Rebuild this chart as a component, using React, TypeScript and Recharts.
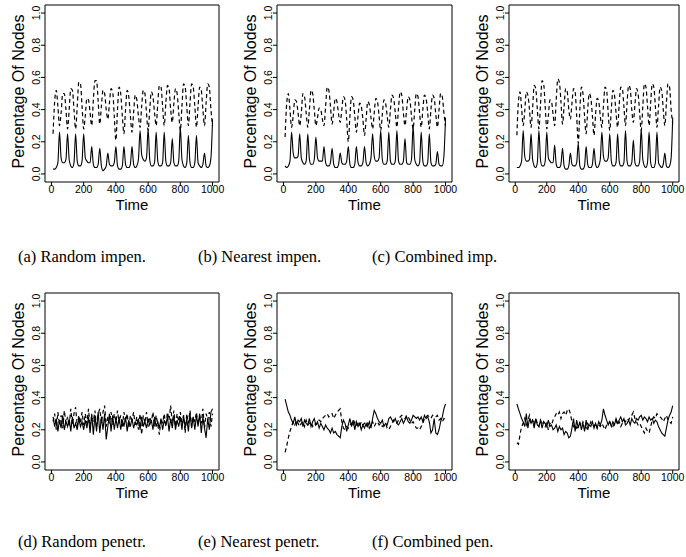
import { LineChart, Line, XAxis, YAxis, ReferenceArea } from "recharts";

// time steps shared by every panel
const TIME = [
  10, 20, 30, 40, 50, 60, 70, 80, 90, 100, 110, 120, 130, 140, 150, 160, 170, 180, 190, 200,
  210, 220, 230, 240, 250, 260, 270, 280, 290, 300, 310, 320, 330, 340, 350, 360, 370, 380, 390, 400,
  410, 420, 430, 440, 450, 460, 470, 480, 490, 500, 510, 520, 530, 540, 550, 560, 570, 580, 590, 600,
  610, 620, 630, 640, 650, 660, 670, 680, 690, 700, 710, 720, 730, 740, 750, 760, 770, 780, 790, 800,
  810, 820, 830, 840, 850, 860, 870, 880, 890, 900, 910, 920, 930, 940, 950, 960, 970, 980, 990, 1000,
];

const X_TICKS = [0, 200, 400, 600, 800, 1000];
const Y_TICKS = [0, 0.2, 0.4, 0.6, 0.8, 1.0];

// (a) Random impen.
const A_SOLID = [
  0.03, 0.03, 0.04, 0.07, 0.26, 0.10, 0.07, 0.07, 0.09, 0.25, 0.09, 0.05, 0.04, 0.07, 0.25, 0.08, 0.05, 0.05, 0.08, 0.25,
  0.10, 0.08, 0.07, 0.07, 0.17, 0.06, 0.04, 0.04, 0.06, 0.16, 0.05, 0.02, 0.03, 0.05, 0.13, 0.06, 0.05, 0.05, 0.07, 0.17,
  0.05, 0.03, 0.03, 0.05, 0.17, 0.06, 0.04, 0.04, 0.06, 0.17, 0.06, 0.04, 0.05, 0.09, 0.27, 0.12, 0.09, 0.08, 0.10, 0.28,
  0.09, 0.05, 0.05, 0.07, 0.26, 0.08, 0.05, 0.05, 0.07, 0.26, 0.08, 0.05, 0.05, 0.07, 0.22, 0.07, 0.05, 0.05, 0.08, 0.29,
  0.09, 0.05, 0.04, 0.07, 0.24, 0.07, 0.04, 0.04, 0.07, 0.24, 0.07, 0.05, 0.04, 0.06, 0.13, 0.05, 0.04, 0.05, 0.10, 0.34,
];
const A_DASHED = [
  0.25, 0.45, 0.52, 0.42, 0.30, 0.38, 0.50, 0.50, 0.40, 0.28, 0.40, 0.53, 0.52, 0.40, 0.28, 0.42, 0.57, 0.56, 0.42, 0.28,
  0.36, 0.47, 0.46, 0.38, 0.30, 0.46, 0.58, 0.58, 0.45, 0.31, 0.42, 0.52, 0.50, 0.40, 0.34, 0.44, 0.53, 0.51, 0.36, 0.21,
  0.40, 0.54, 0.50, 0.36, 0.25, 0.40, 0.52, 0.48, 0.36, 0.26, 0.38, 0.49, 0.46, 0.36, 0.29, 0.42, 0.52, 0.50, 0.38, 0.27,
  0.40, 0.51, 0.48, 0.38, 0.30, 0.44, 0.55, 0.54, 0.42, 0.30, 0.44, 0.55, 0.53, 0.40, 0.32, 0.44, 0.53, 0.50, 0.38, 0.27,
  0.42, 0.56, 0.54, 0.42, 0.30, 0.44, 0.56, 0.54, 0.42, 0.29, 0.42, 0.54, 0.52, 0.40, 0.30, 0.44, 0.56, 0.54, 0.40, 0.30,
];

// (b) Nearest impen.
const B_SOLID = [
  0.05, 0.04, 0.05, 0.08, 0.26, 0.13, 0.10, 0.10, 0.11, 0.25, 0.10, 0.07, 0.06, 0.08, 0.25, 0.09, 0.06, 0.06, 0.09, 0.23,
  0.10, 0.08, 0.08, 0.08, 0.17, 0.07, 0.05, 0.05, 0.07, 0.16, 0.06, 0.04, 0.04, 0.06, 0.13, 0.07, 0.06, 0.06, 0.08, 0.17,
  0.06, 0.04, 0.04, 0.06, 0.17, 0.07, 0.05, 0.05, 0.07, 0.17, 0.07, 0.05, 0.06, 0.10, 0.25, 0.11, 0.08, 0.08, 0.10, 0.27,
  0.09, 0.06, 0.06, 0.08, 0.26, 0.08, 0.06, 0.06, 0.08, 0.27, 0.08, 0.06, 0.06, 0.08, 0.22, 0.07, 0.06, 0.06, 0.09, 0.30,
  0.09, 0.06, 0.05, 0.07, 0.26, 0.08, 0.05, 0.05, 0.07, 0.25, 0.07, 0.05, 0.05, 0.06, 0.14, 0.06, 0.05, 0.05, 0.11, 0.35,
];
const B_DASHED = [
  0.23, 0.44, 0.50, 0.40, 0.29, 0.36, 0.46, 0.45, 0.38, 0.30, 0.38, 0.50, 0.48, 0.38, 0.29, 0.40, 0.52, 0.50, 0.40, 0.30,
  0.35, 0.41, 0.40, 0.34, 0.30, 0.42, 0.54, 0.52, 0.42, 0.31, 0.39, 0.47, 0.45, 0.37, 0.32, 0.40, 0.48, 0.46, 0.34, 0.20,
  0.36, 0.48, 0.46, 0.36, 0.26, 0.36, 0.44, 0.42, 0.34, 0.24, 0.34, 0.45, 0.43, 0.35, 0.28, 0.38, 0.47, 0.45, 0.36, 0.27,
  0.37, 0.46, 0.44, 0.36, 0.29, 0.40, 0.49, 0.47, 0.38, 0.29, 0.41, 0.51, 0.49, 0.38, 0.30, 0.40, 0.48, 0.46, 0.36, 0.28,
  0.40, 0.50, 0.48, 0.38, 0.29, 0.40, 0.49, 0.47, 0.38, 0.28, 0.40, 0.49, 0.47, 0.37, 0.29, 0.40, 0.50, 0.48, 0.38, 0.30,
];

// (c) Combined imp.
const C_SOLID = [
  0.04, 0.04, 0.05, 0.08, 0.27, 0.11, 0.08, 0.08, 0.09, 0.25, 0.09, 0.05, 0.04, 0.07, 0.27, 0.09, 0.05, 0.05, 0.08, 0.26,
  0.10, 0.08, 0.07, 0.07, 0.18, 0.06, 0.04, 0.04, 0.06, 0.16, 0.05, 0.03, 0.03, 0.05, 0.13, 0.06, 0.05, 0.05, 0.07, 0.19,
  0.05, 0.03, 0.03, 0.05, 0.17, 0.06, 0.04, 0.04, 0.06, 0.16, 0.06, 0.04, 0.05, 0.09, 0.26, 0.11, 0.08, 0.08, 0.10, 0.25,
  0.08, 0.05, 0.05, 0.07, 0.25, 0.08, 0.05, 0.05, 0.07, 0.27, 0.08, 0.05, 0.05, 0.07, 0.21, 0.07, 0.05, 0.05, 0.08, 0.28,
  0.09, 0.05, 0.04, 0.07, 0.26, 0.07, 0.04, 0.04, 0.07, 0.26, 0.07, 0.05, 0.04, 0.06, 0.13, 0.05, 0.04, 0.05, 0.10, 0.35,
];
const C_DASHED = [
  0.24, 0.45, 0.51, 0.41, 0.30, 0.39, 0.51, 0.49, 0.40, 0.29, 0.41, 0.55, 0.53, 0.40, 0.28, 0.43, 0.58, 0.56, 0.42, 0.28,
  0.36, 0.46, 0.45, 0.37, 0.30, 0.46, 0.59, 0.57, 0.45, 0.31, 0.42, 0.53, 0.51, 0.40, 0.34, 0.44, 0.53, 0.51, 0.36, 0.19,
  0.40, 0.54, 0.50, 0.36, 0.25, 0.40, 0.50, 0.47, 0.36, 0.24, 0.37, 0.47, 0.45, 0.36, 0.29, 0.42, 0.54, 0.52, 0.38, 0.27,
  0.40, 0.52, 0.49, 0.38, 0.29, 0.43, 0.54, 0.53, 0.42, 0.30, 0.44, 0.55, 0.53, 0.40, 0.32, 0.43, 0.53, 0.50, 0.38, 0.27,
  0.42, 0.56, 0.54, 0.42, 0.30, 0.44, 0.56, 0.54, 0.42, 0.29, 0.42, 0.54, 0.52, 0.40, 0.30, 0.44, 0.56, 0.54, 0.40, 0.31,
];

// (d) Random penetr.
const D_SOLID = [
  0.28, 0.22, 0.27, 0.19, 0.26, 0.21, 0.29, 0.20, 0.25, 0.22, 0.27, 0.19, 0.28, 0.21, 0.24, 0.20, 0.27, 0.22, 0.25, 0.20,
  0.26, 0.21, 0.28, 0.18, 0.30, 0.17, 0.29, 0.19, 0.31, 0.18, 0.28, 0.20, 0.30, 0.14, 0.22, 0.30, 0.19, 0.29, 0.20, 0.27,
  0.21, 0.28, 0.20, 0.26, 0.22, 0.28, 0.19, 0.26, 0.22, 0.27, 0.21, 0.25, 0.23, 0.27, 0.20, 0.28, 0.22, 0.25, 0.21, 0.27,
  0.23, 0.26, 0.20, 0.28, 0.22, 0.25, 0.21, 0.27, 0.20, 0.26, 0.23, 0.28, 0.19, 0.27, 0.21, 0.29, 0.20, 0.26, 0.22, 0.28,
  0.20, 0.29, 0.21, 0.27, 0.19, 0.30, 0.21, 0.28, 0.20, 0.29, 0.22, 0.30, 0.18, 0.28, 0.21, 0.15, 0.27, 0.20, 0.31, 0.33,
];
const D_DASHED = [
  0.25, 0.30, 0.20, 0.31, 0.23, 0.29, 0.21, 0.32, 0.24, 0.28, 0.22, 0.33, 0.23, 0.30, 0.34, 0.22, 0.29, 0.24, 0.31, 0.23,
  0.30, 0.24, 0.33, 0.22, 0.29, 0.25, 0.32, 0.21, 0.30, 0.33, 0.24, 0.31, 0.35, 0.22, 0.28, 0.24, 0.31, 0.23, 0.30, 0.25,
  0.32, 0.24, 0.29, 0.22, 0.31, 0.25, 0.30, 0.21, 0.29, 0.26, 0.31, 0.23, 0.28, 0.20, 0.30, 0.17, 0.29, 0.24, 0.31, 0.22,
  0.28, 0.25, 0.31, 0.22, 0.29, 0.23, 0.17, 0.27, 0.24, 0.30, 0.22, 0.31, 0.26, 0.35, 0.24, 0.32, 0.22, 0.30, 0.25, 0.31,
  0.23, 0.29, 0.18, 0.30, 0.24, 0.32, 0.22, 0.28, 0.25, 0.31, 0.23, 0.29, 0.24, 0.33, 0.21, 0.30, 0.26, 0.31, 0.22, 0.30,
];

// (e) Nearest penetr.
const E_SOLID = [
  0.39, 0.35, 0.31, 0.29, 0.26, 0.24, 0.28, 0.23, 0.26, 0.25, 0.27, 0.22, 0.26, 0.24, 0.23, 0.27, 0.22, 0.25, 0.27, 0.23,
  0.25, 0.21, 0.24, 0.22, 0.20, 0.23, 0.21, 0.20, 0.18, 0.21, 0.18, 0.19, 0.17, 0.16, 0.15, 0.22, 0.26, 0.24, 0.19, 0.23,
  0.27, 0.22, 0.26, 0.20, 0.25, 0.22, 0.24, 0.20, 0.23, 0.21, 0.24, 0.22, 0.25, 0.21, 0.27, 0.32, 0.30, 0.27, 0.25, 0.24,
  0.26, 0.22, 0.24, 0.23, 0.27, 0.28, 0.26, 0.25, 0.27, 0.24, 0.23, 0.25, 0.27, 0.24, 0.26, 0.28, 0.25, 0.24, 0.26, 0.29,
  0.28, 0.27, 0.28, 0.26, 0.28, 0.25, 0.29, 0.27, 0.28, 0.25, 0.18, 0.20, 0.27, 0.18, 0.17, 0.20, 0.25, 0.28, 0.33, 0.36,
];
const E_DASHED = [
  0.06, 0.10, 0.15, 0.19, 0.22, 0.25, 0.23, 0.26, 0.24, 0.22, 0.24, 0.25, 0.22, 0.26, 0.23, 0.24, 0.25, 0.22, 0.24, 0.23,
  0.24, 0.26, 0.25, 0.27, 0.28, 0.29, 0.30, 0.28, 0.29, 0.30, 0.27, 0.29, 0.31, 0.32, 0.33, 0.25, 0.21, 0.20, 0.22, 0.21,
  0.23, 0.24, 0.22, 0.25, 0.23, 0.24, 0.22, 0.25, 0.23, 0.24, 0.22, 0.24, 0.21, 0.23, 0.25, 0.22, 0.24, 0.25, 0.23, 0.24,
  0.22, 0.23, 0.24, 0.21, 0.20, 0.22, 0.24, 0.26, 0.25, 0.24, 0.26, 0.28, 0.29, 0.28, 0.27, 0.29, 0.28, 0.26, 0.24, 0.25,
  0.23, 0.21, 0.21, 0.20, 0.22, 0.24, 0.27, 0.28, 0.29, 0.28, 0.27, 0.29, 0.28, 0.28, 0.29, 0.26, 0.27, 0.25, 0.27, 0.26,
];

// (f) Combined pen.
const F_SOLID = [
  0.36, 0.33, 0.30, 0.27, 0.25, 0.22, 0.30, 0.21, 0.27, 0.24, 0.26, 0.21, 0.27, 0.23, 0.22, 0.26, 0.21, 0.25, 0.24, 0.22,
  0.26, 0.22, 0.23, 0.20, 0.21, 0.23, 0.19, 0.22, 0.20, 0.21, 0.17, 0.19, 0.18, 0.15, 0.16, 0.21, 0.27, 0.19, 0.26, 0.21,
  0.25, 0.20, 0.24, 0.19, 0.26, 0.20, 0.23, 0.22, 0.25, 0.21, 0.24, 0.21, 0.25, 0.23, 0.26, 0.33, 0.29, 0.26, 0.23, 0.25,
  0.22, 0.25, 0.23, 0.27, 0.24, 0.26, 0.28, 0.25, 0.27, 0.23, 0.24, 0.26, 0.23, 0.27, 0.25, 0.24, 0.27, 0.26, 0.28, 0.29,
  0.26, 0.28, 0.27, 0.25, 0.28, 0.26, 0.27, 0.24, 0.26, 0.25, 0.22, 0.20, 0.18, 0.17, 0.16, 0.21, 0.26, 0.29, 0.31, 0.35,
];
const F_DASHED = [
  0.12, 0.11, 0.17, 0.22, 0.24, 0.27, 0.23, 0.26, 0.29, 0.24, 0.26, 0.23, 0.27, 0.24, 0.22, 0.26, 0.23, 0.25, 0.22, 0.24,
  0.20, 0.24, 0.23, 0.26, 0.28, 0.30, 0.29, 0.31, 0.27, 0.30, 0.31, 0.29, 0.32, 0.33, 0.30, 0.25, 0.22, 0.23, 0.21, 0.22,
  0.24, 0.22, 0.25, 0.23, 0.21, 0.24, 0.22, 0.25, 0.23, 0.22, 0.24, 0.21, 0.23, 0.22, 0.24, 0.22, 0.20, 0.23, 0.24, 0.25,
  0.23, 0.22, 0.24, 0.26, 0.23, 0.25, 0.22, 0.24, 0.26, 0.25, 0.27, 0.26, 0.28, 0.29, 0.31, 0.27, 0.25, 0.23, 0.24, 0.22,
  0.20, 0.18, 0.21, 0.19, 0.18, 0.22, 0.26, 0.28, 0.27, 0.30, 0.29, 0.28, 0.27, 0.25, 0.27, 0.29, 0.26, 0.25, 0.24, 0.28,
];

const CAPTIONS = [
  "(a) Random impen.",
  "(b) Nearest impen.",
  "(c) Combined imp.",
  "(d) Random penetr.",
  "(e) Nearest penetr.",
  "(f) Combined pen.",
];

const SANS = "'Liberation Sans', Arial, Helvetica, sans-serif";
const SERIF = "'Liberation Serif', 'Times New Roman', serif";

const X_DOMAIN: [number, number] = [-40, 1040];
const Y_DOMAIN: [number, number] = [-0.05, 1.05];

const YTick = (props: any) => {
  const { x, y, payload } = props;
  const tx = x + 1.5;
  return (
    <text
      x={tx}
      y={y}
      transform={`rotate(-90 ${tx} ${y})`}
      textAnchor="middle"
      fontFamily={SANS}
      fontSize={10.5}
      fill="#000"
    >
      {payload.value.toFixed(1)}
    </text>
  );
};

const TimeLabel = (props: any) => {
  const vb = props.viewBox;
  return (
    <text
      x={vb.x + vb.width / 2}
      y={vb.y + 27.5}
      textAnchor="middle"
      fontFamily={SANS}
      fontSize={15}
      fill="#000"
    >
      Time
    </text>
  );
};

const YLabel = (props: any) => {
  const vb = props.viewBox;
  const x = 23.5;
  const y = vb.y + vb.height / 2 - 2;
  return (
    <text
      x={x}
      y={y}
      transform={`rotate(-90 ${x} ${y})`}
      textAnchor="middle"
      fontFamily={SANS}
      fontSize={16}
      fill="#000"
    >
      Percentage Of Nodes
    </text>
  );
};

interface PanelProps {
  left: number;
  top: number;
  width: number;
  solid: number[];
  dashed: number[];
  smooth: boolean;
}

function Panel({ left, top, width, solid, dashed, smooth }: PanelProps) {
  const data = TIME.map((t, i) => ({ t, solid: solid[i], dashed: dashed[i] }));
  return (
    <div style={{ position: "absolute", left, top }}>
      <LineChart
        width={width}
        height={215}
        data={data}
        margin={{ top: 5, right: 6, left: 0, bottom: 0 }}
      >
        <XAxis
          dataKey="t"
          type="number"
          domain={X_DOMAIN}
          ticks={X_TICKS}
          interval={0}
          allowDataOverflow
          axisLine={false}
          tickSize={4}
          tickMargin={0}
          tickLine={{ stroke: "#000" }}
          tick={{ fill: "#000", fontSize: 10.5, fontFamily: SANS }}
          height={33}
          label={TimeLabel}
        />
        <YAxis
          type="number"
          domain={Y_DOMAIN}
          ticks={Y_TICKS}
          interval={0}
          allowDataOverflow
          axisLine={false}
          tickSize={4}
          tickLine={{ stroke: "#000" }}
          tick={<YTick />}
          width={45}
          label={YLabel}
        />
        <ReferenceArea
          x1={X_DOMAIN[0]}
          x2={X_DOMAIN[1]}
          y1={Y_DOMAIN[0]}
          y2={Y_DOMAIN[1]}
          fill="none"
          fillOpacity={0}
          stroke="#000"
          strokeWidth={1}
          ifOverflow="visible"
        />
        <Line
          dataKey="dashed"
          type={smooth ? "monotone" : "linear"}
          stroke="#000"
          strokeWidth={1.2}
          strokeDasharray="4 3"
          dot={false}
          isAnimationActive={false}
        />
        <Line
          dataKey="solid"
          type={smooth ? "monotone" : "linear"}
          stroke="#000"
          strokeWidth={1.1}
          dot={false}
          isAnimationActive={false}
        />
      </LineChart>
    </div>
  );
}

const PANEL_LEFT = [0, 232, 464];
const PANEL_WIDTH = [225, 226, 221];
const ROW_TOP = [0, 288];
const CAPTION_X = [18, 198, 372];
const CAPTION_Y = [262, 547];

export default function App() {
  const panels = [
    { solid: A_SOLID, dashed: A_DASHED },
    { solid: B_SOLID, dashed: B_DASHED },
    { solid: C_SOLID, dashed: C_DASHED },
    { solid: D_SOLID, dashed: D_DASHED },
    { solid: E_SOLID, dashed: E_DASHED },
    { solid: F_SOLID, dashed: F_DASHED },
  ];
  return (
    <div
      style={{
        position: "absolute",
        left: 0,
        top: 0,
        width: 686,
        height: 557,
        background: "#fff",
        overflow: "hidden",
      }}
    >
      <svg width={686} height={557} style={{ position: "absolute", left: 0, top: 0 }}>
        {CAPTIONS.map((c, i) => (
          <text
            key={c}
            x={CAPTION_X[i % 3]}
            y={CAPTION_Y[Math.floor(i / 3)]}
            fontFamily={SERIF}
            fontSize={16.5}
            fill="#000"
          >
            {c}
          </text>
        ))}
      </svg>
      {panels.map((p, i) => (
        <Panel
          key={i}
          left={PANEL_LEFT[i % 3]}
          top={ROW_TOP[Math.floor(i / 3)]}
          width={PANEL_WIDTH[i % 3]}
          solid={p.solid}
          dashed={p.dashed}
          smooth={i < 3}
        />
      ))}
    </div>
  );
}
